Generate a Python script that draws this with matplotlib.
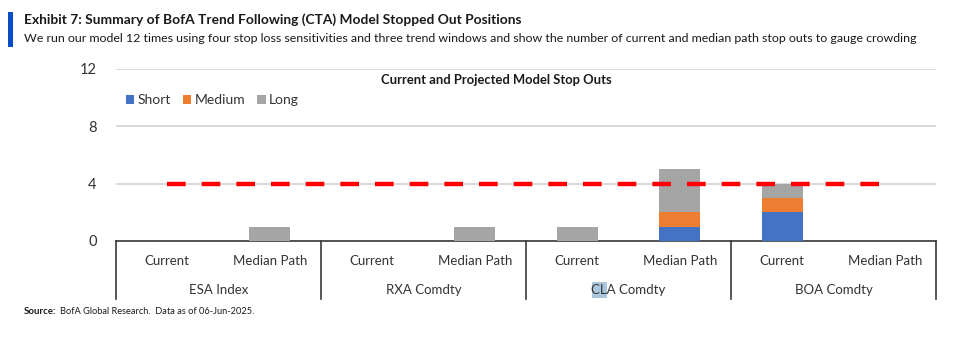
import matplotlib
matplotlib.use("Agg")
import matplotlib.pyplot as plt
from matplotlib.patches import Rectangle
from matplotlib.lines import Line2D
import numpy as np

# ── data ────────────────────────────────────────────────────────────────────
groups = ["ESA Index", "RXA Comdty", "CLA Comdty", "BOA Comdty"]
subcats = ["Current", "Median Path"]
short = [0, 0, 0, 0, 0, 1, 2, 0]
medium = [0, 0, 0, 0, 0, 1, 1, 0]
long_ = [0, 1, 0, 1, 1, 3, 1, 0]
threshold = [4, 4, 4, 4, 4, 4, 4, 4]
yticks = [0, 4, 8, 12]

BLUE = "#4472C4"
ORANGE = "#ED7D31"
GRAY = "#A5A5A5"
RED = "#FF0000"
INK = "#1A1A1A"
AXIS = "#3A3A3A"
GRID = "#D9D9D9"

plt.rcParams.update({
    "font.family": ["Lato", "DejaVu Sans"],
    "font.size": 10,
})

W, H = 960, 337
fig = plt.figure(figsize=(9.6, 3.37), dpi=100)


def fx(px):
    return px / W


def fy(py):
    return 1 - py / H


# header
fig.add_artist(Rectangle((fx(8), fy(47)), fx(5), (47 - 12) / H,
                         transform=fig.transFigure, color="#0A4BC8", lw=0))
fig.text(fx(24), fy(20), "Exhibit 7: Summary of BofA Trend Following (CTA) Model Stopped Out Positions",
         fontsize=9.9, fontweight="bold", color=INK, va="center", ha="left")
fig.text(fx(24), fy(39), "We run our model 12 times using four stop loss sensitivities and three trend "
         "windows and show the number of current and median path stop outs to gauge crowding",
         fontsize=8.9, color=INK, va="center", ha="left")

# plot area
ax = fig.add_axes([fx(116), fy(241), (936 - 116) / W, (241 - 69) / H])
x = np.arange(len(short))
bw = 0.4
s = np.array(short)
m = np.array(medium)
l = np.array(long_)
ax.bar(x, s, bw, color=BLUE, label="Short", zorder=3)
ax.bar(x, m, bw, bottom=s, color=ORANGE, label="Medium", zorder=3)
ax.bar(x, l, bw, bottom=s + m, color=GRAY, label="Long", zorder=3)
ax.plot(x, threshold, color=RED, lw=3.2, ls=(0, (4.2, 3.6)), zorder=4)

ax.set_xlim(-0.5, len(short) - 0.5)
ax.set_ylim(0, 12)
ax.set_yticks(yticks)
ax.yaxis.grid(True, color=GRID, lw=1.4)
ax.set_axisbelow(True)
for sp in ["top", "right", "left"]:
    ax.spines[sp].set_visible(False)
ax.spines["bottom"].set_color(AXIS)
ax.spines["bottom"].set_linewidth(1.2)
ax.tick_params(axis="y", length=0, pad=14, labelsize=10.5, labelcolor="#333333")
ax.set_xticks([])

ax.text((496 - 116) / 820, 0.935, "Current and Projected Model Stop Outs", transform=ax.transAxes,
        fontsize=9.4, fontweight="bold", color=INK, ha="center", va="center")
ax.legend(loc="upper left", bbox_to_anchor=(-0.003, 0.925), ncol=3, frameon=False,
          handlelength=0.6, handleheight=0.6, handletextpad=0.25,
          columnspacing=0.85, fontsize=10, labelcolor="#333333")

# two-level category axis
tr = ax.get_xaxis_transform()
for i in range(len(short)):
    ax.text(x[i], -0.115, subcats[i % 2], transform=tr, ha="center", va="center",
            fontsize=9.5, color="#333333", clip_on=False)
for g, name in enumerate(groups):
    ax.text(2 * g + 0.5, -0.285, name, transform=tr, ha="center", va="center",
            fontsize=9.5, color="#333333", clip_on=False)
for b in range(len(groups) + 1):
    ax.add_line(Line2D([2 * b - 0.5] * 2, [0, -0.335], transform=tr, color=AXIS,
                       lw=1.2, clip_on=False))

# selection highlight on "CL" from the screenshot
fig.add_artist(Rectangle((fx(592), fy(298)), fx(15), 16 / H, transform=fig.transFigure,
                         color="#A9C6DE", lw=0, zorder=0))

# source
fig.text(fx(24), fy(312), "Source:", fontsize=6.9, fontweight="bold", color=INK,
         va="center", ha="left")
fig.text(fx(60), fy(312), "BofA Global Research.  Data as of 06-Jun-2025.",
         fontsize=6.7, color=INK, va="center", ha="left")

fig.savefig("out.png", dpi=100)
